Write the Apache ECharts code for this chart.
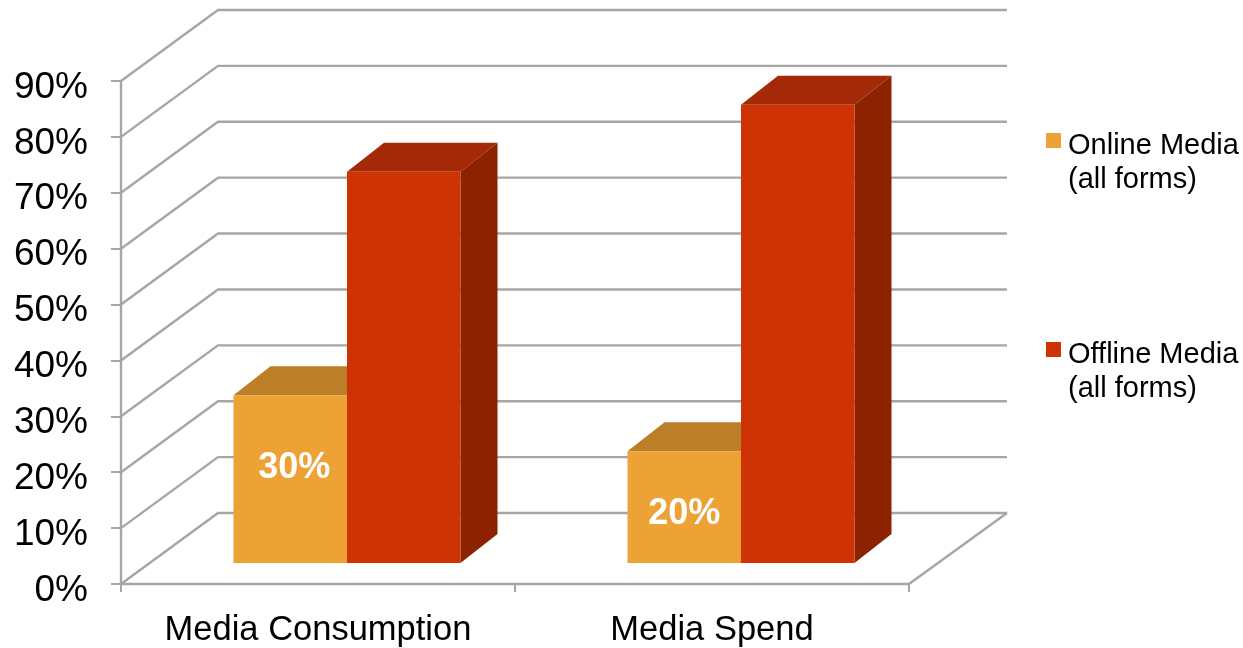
<!DOCTYPE html>
<html>
<head>
<meta charset="utf-8">
<style>html,body{margin:0;padding:0;background:#fff}#chart{width:1243px;height:648px}</style>
<script src="https://cdn.jsdelivr.net/npm/echarts@6/dist/echarts.min.js"></script>
</head>
<body>
<div id="chart"></div>
<script>
// Chart data
const categories = ['Media Consumption', 'Media Spend'];
const onlineMedia = [30, 20];
const offlineMedia = [70, 82];
const valueTicks = [0, 10, 20, 30, 40, 50, 60, 70, 80, 90];
const legendNames = ['Online Media', 'Offline Media'];
const legendNote = '(all forms)';

// Oblique projection of the box: wall depth and bar depth, in pixels
const WALL = [97, -71];
const BAR_BASE = [29, -21];
const BAR_DEPTH = [37, -29];
const BAR_WIDTH = 113.5;
const GRID_COLOR = '#A6A6A6';
const FONT = '"Liberation Sans", Arial, sans-serif';

// Value labels were placed by hand in the slide: value level and x nudge
const labelPlacement = [{ level: 16.93, dx: 4 }, { level: 8.73, dx: 0 }];

const chart = echarts.init(document.getElementById('chart'), null, { renderer: 'canvas' });

// One back-wall gridline: runs up the side wall, then across the back wall
function renderWall(params, api) {
  const v = api.value(1);
  const cs = params.coordSys;
  const y = api.coord([0, v])[1];
  const left = cs.x, right = cs.x + cs.width;
  const style = { stroke: GRID_COLOR, lineWidth: 2.4, fill: null };
  const children = [{
    type: 'polyline',
    shape: { points: [[left, y], [left + WALL[0], y + WALL[1]], [right + WALL[0] + 1, y + WALL[1]]] },
    style
  }];
  if (v === 0) {
    children.push({
      type: 'line',
      shape: { x1: right, y1: y, x2: right + WALL[0] + 1, y2: y + WALL[1] },
      style
    });
  }
  return { type: 'group', children };
}

// A box: front face, top face and right side in three shades
function boxRenderer(slot, front, top, side, withLabel) {
  return function (params, api) {
    const idx = params.dataIndex;
    const cat = api.value(0), val = api.value(1);
    const p = api.coord([cat, val]);
    const p0 = api.coord([cat, 0]);
    const xL = p[0] + BAR_BASE[0] + slot * BAR_WIDTH;
    const xR = xL + BAR_WIDTH;
    const yT = p[1] + BAR_BASE[1];
    const yB = p0[1] + BAR_BASE[1];
    const dx = BAR_DEPTH[0], dy = BAR_DEPTH[1];
    const children = [
      { type: 'polygon', shape: { points: [[xL, yT], [xR, yT], [xR + dx, yT + dy], [xL + dx, yT + dy]] }, style: { fill: top } },
      { type: 'polygon', shape: { points: [[xR, yT], [xR + dx, yT + dy], [xR + dx, yB + dy], [xR, yB]] }, style: { fill: side } },
      { type: 'rect', shape: { x: xL, y: yT, width: BAR_WIDTH, height: yB - yT }, style: { fill: front } }
    ];
    if (withLabel) {
      const place = labelPlacement[idx];
      children.push({
        type: 'text',
        style: {
          text: val + '%',
          x: xL + BAR_WIDTH / 2 + place.dx,
          y: api.coord([cat, place.level])[1] + BAR_BASE[1],
          align: 'center',
          verticalAlign: 'middle',
          fill: '#FFFFFF',
          font: 'bold 36px ' + FONT
        }
      });
    }
    return { type: 'group', children };
  };
}

// Legend entry; the swatch lines up with the upper part of the first text line
function legendBlock(name, top) {
  return {
    data: [{ name, icon: 'rect' }],
    left: 1046, top, padding: 0, itemWidth: 15, itemHeight: 15,
    formatter: n => '{t|' + n + '}',
    textStyle: {
      rich: { t: { fontFamily: FONT, fontSize: 29, color: '#000', padding: [10, 0, 0, 2] } }
    },
    selectedMode: false
  };
}

chart.setOption({
  animation: false,
  backgroundColor: '#fff',
  grid: { left: 121, right: 334, top: 81, bottom: 64 },
  legend: [legendBlock(legendNames[0], 131), legendBlock(legendNames[1], 340)],
  graphic: [
    { type: 'text', left: 1068, top: 165, style: { text: legendNote, font: '29px ' + FONT, fill: '#000' } },
    { type: 'text', left: 1068, top: 374, style: { text: legendNote, font: '29px ' + FONT, fill: '#000' } }
  ],
  xAxis: {
    type: 'category',
    data: categories,
    boundaryGap: true,
    axisLine: { show: true, lineStyle: { color: GRID_COLOR, width: 2.4 } },
    axisTick: { show: true, interval: 0, length: 8, lineStyle: { color: GRID_COLOR, width: 2 } },
    axisLabel: { color: '#000', fontFamily: FONT, fontSize: 34.5, margin: 29, interval: 0, hideOverlap: false },
    z: 1
  },
  yAxis: {
    type: 'value',
    min: 0, max: 90, interval: 10,
    axisLine: { show: true, lineStyle: { color: GRID_COLOR, width: 2.4 } },
    axisTick: { show: true, length: 10, lineStyle: { color: GRID_COLOR, width: 2 } },
    splitLine: { show: false },
    axisLabel: {
      color: '#000', fontFamily: FONT, fontSize: 37, margin: 33,
      formatter: '{value}%', verticalAlign: 'top', lineHeight: 13
    }
  },
  series: [
    {
      name: 'walls',
      type: 'custom',
      silent: true,
      clip: false,
      z: 1,
      renderItem: renderWall,
      data: valueTicks.map(v => [0, v]),
      encode: { x: 0, y: 1 }
    },
    {
      name: legendNames[0],
      type: 'custom',
      clip: false,
      z: 3,
      itemStyle: { color: '#EDA236' },
      renderItem: boxRenderer(-1, '#EDA236', '#BC7F28', '#8F5F1E', true),
      data: onlineMedia.map((v, i) => [i, v]),
      encode: { x: 0, y: 1 }
    },
    {
      name: legendNames[1],
      type: 'custom',
      clip: false,
      z: 4,
      itemStyle: { color: '#CD3305' },
      renderItem: boxRenderer(0, '#CD3305', '#A42A07', '#8C2200', false),
      data: offlineMedia.map((v, i) => [i, v]),
      encode: { x: 0, y: 1 }
    }
  ]
});
</script>
</body>
</html>
